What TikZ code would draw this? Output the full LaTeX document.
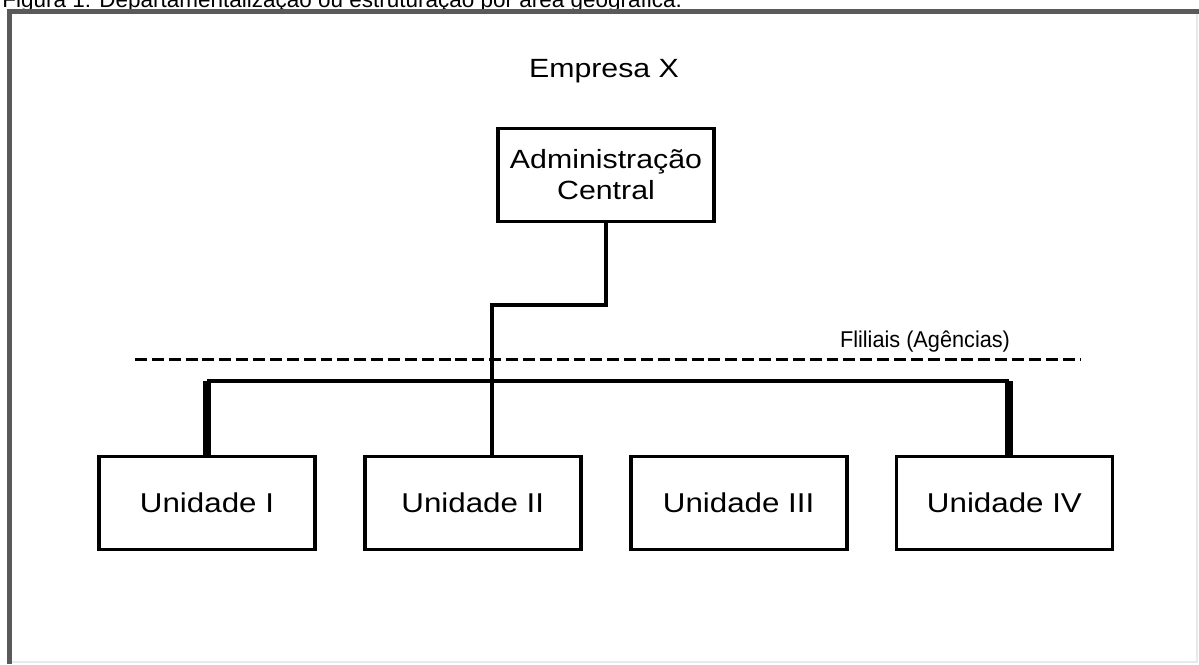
\documentclass[tikz,border=0pt]{standalone}
\usepackage{fontspec}
\setmainfont{Liberation Sans}
\newfontfamily\widefont{Liberation Sans}[FakeStretch=1.15]
\newfontfamily\narrowfont{Liberation Sans}[FakeStretch=0.95]
\usetikzlibrary{positioning}
\definecolor{FrameDark}{HTML}{5A5A5A}
\definecolor{FrameLight}{HTML}{E6EAEA}

\begin{document}
\begin{tikzpicture}[x=0.02cm,y=-0.02cm,node distance=0.92cm]
    \tikzset{unit/.style={draw,line width=2.2pt,minimum width=4.32cm,minimum height=1.86cm,align=center,font=\widefont\fontsize{15.5}{18.5}\selectfont},
      link/.style={line width=2pt},
      drop/.style={line width=4.5pt},
      separator/.style={line width=1.7pt,dash pattern=on 6.8pt off 2.8pt}}
    \useasboundingbox (0,0) rectangle (1199,664);
    \begin{scope}
      \clip (0,0) rectangle (1199,664);
      \node[anchor=base west,inner sep=0pt,font=\fontsize{12.8}{15}\selectfont] (caption) at (2,7) {Figura 1: Departamentalização ou estruturação por área geográfica.};
    \end{scope}
    % frame
    \draw[FrameLight,line width=1.2pt] (9,11) -- (1197,11) -- (1197,662) -- (9,662);
    \draw[FrameDark,line width=2.3pt] (9.5,664) -- (9.5,11.5) -- (1199,11.5);

    \node[anchor=base,font=\widefont\fontsize{15}{18}\selectfont] (firm) at (604,77) {Empresa X};
    \node[unit,font=\widefont\fontsize{15}{17.6}\selectfont] (admin) at (606,175) {Administração\\Central};

    \node[unit] (u1) at (207,503) {Unidade I};
    \node[unit,right=of u1] (u2) {Unidade II};
    \node[unit,right=of u2] (u3) {Unidade III};
    \node[unit,right=of u3] (u4) {Unidade IV};

    % filiais
    \draw[separator] (135,359) -- (1080,359);
    \node[font=\narrowfont\fontsize{13}{15}\selectfont] (branches) at (925,342) {Fliliais (Agências)};

    \coordinate (jog) at (492,305);
    \coordinate (busy) at (0,381);
    \coordinate (drop4) at ([xshift=2.8pt]u4.north);
    \draw[link] (admin.south) -- (admin.south |- jog) -- (jog) -- (jog |- u2.north);
    \draw[drop] (u1.north) -- (u1.north |- busy);
    \draw[drop] (drop4) -- (drop4 |- busy);
    \draw[link] (u1.north |- busy) -- (drop4 |- busy);
\end{tikzpicture}
\end{document}
